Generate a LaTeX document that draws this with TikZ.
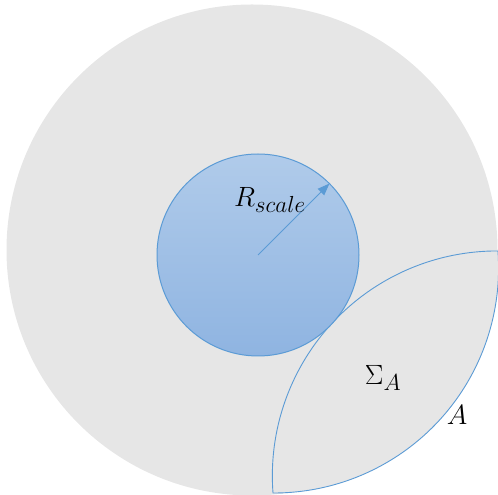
\documentclass[tikz,border=0pt]{standalone}
\usetikzlibrary{arrows.meta}
\definecolor{bggray}{RGB}{230,230,230}
\definecolor{edgeblue}{RGB}{91,155,213}
\definecolor{bluetop}{RGB}{176,203,234}
\definecolor{bluebot}{RGB}{143,180,225}
\tikzset{
  bigdisc/.style={fill=bggray, draw=none},
  lensshape/.style={fill=bggray, draw=edgeblue, line width=0.9pt},
  scaledisc/.style={top color=bluetop, bottom color=bluebot, draw=edgeblue, line width=1pt},
  radiusarrow/.style={draw=edgeblue, line width=1pt, -{Triangle[length=12pt,width=9pt]}},
  lbl/.style={inner sep=0pt, font=\Huge, scale=1.12}
}
\begin{document}
\begin{tikzpicture}[x=1pt,y=1pt]
\useasboundingbox (0,0) rectangle (498,495);
% large gray disc
\coordinate (G) at (252,245);
\fill[bigdisc] (G) circle[radius=245.5];
% lens region A
\coordinate (P1) at (273,2);
\coordinate (P2) at (498,244);
\draw[lensshape] (P1) arc[start angle=-90.2, end angle=4.4, radius=224.8]
  arc[start angle=89.8, end angle=184.4, radius=224.8] -- cycle;
% blue disc
\coordinate (B) at (258,240);
\draw[scaledisc] (B) circle[radius=101];
\path (B) ++(45:101) coordinate (Rend);
\draw[radiusarrow] (B) -- (Rend);
% labels
\node[lbl] (rscale) at (270,295) {$R_{scale}$};
\node[lbl] (sigma) at (383,117) {$\Sigma_A$};
\node[lbl] (alabel) at (457,80) {$A$};
\end{tikzpicture}
\end{document}
